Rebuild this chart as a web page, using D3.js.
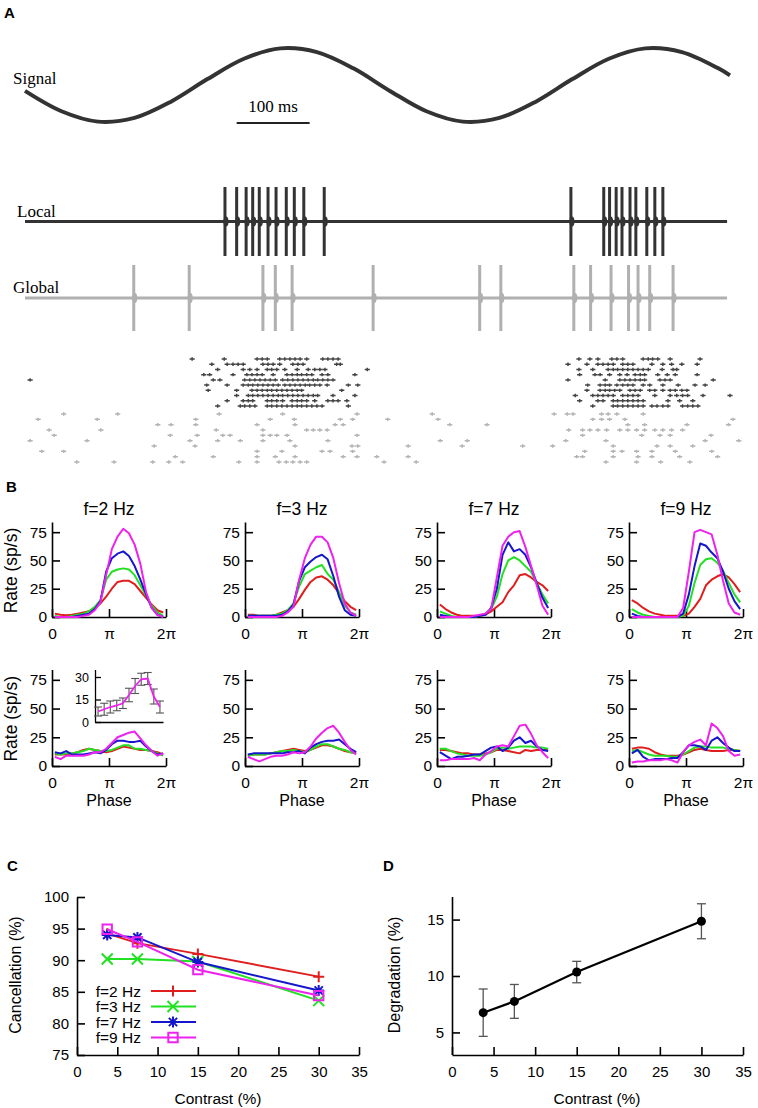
<!DOCTYPE html>
<html><head><meta charset="utf-8">
<script src="https://cdn.jsdelivr.net/npm/d3@7"></script>
<style>
body{margin:0;background:#fff}
svg{display:block}
</style></head><body>
<svg id="fig" width="758" height="1108"></svg>
<script>
// ---------------- DATA ----------------
// Panel A: stimulus (2 Hz sine), sampled every 50 ms (normalised amplitude)
const signalTimes = [0,50,100,150,200,250,300,350,400,450,500,550,600,650,700,750,800,850,900,950,966];
const signalValues = [-0.16,-0.71,-0.99,-0.89,-0.45,0.16,0.71,0.99,0.89,0.45,-0.16,-0.71,-0.99,-0.89,-0.45,0.16,0.71,0.99,0.89,0.45,0.26];
const traceEnd = 962;
const scaleBarStart = 290, scaleBarLen = 100;
const localSpikes = [274,290,303,312,321,333,344,358,369,382,410,748,793,801,810,818,829,837,852,863,874];
const globalSpikes = [149,225,326,343,366,477,623,652,752,775,803,827,840,856,888];
const rasterLocal = [
[229,273,318,325,332,349,356,363,370,377,386,408,415,422,429,759,774,785,804,811,819,847,854,860,867,884,925],
[256,277,285,292,299,326,333,340,349,367,374,381,427,432,744,770,785,792,799,806,819,826,833,859,874,886,900,921],
[264,299,308,318,332,338,345,356,373,388,397,404,411,469,759,778,799,806,812,819,826,833,840,847,854,873,888,893],
[245,253,285,304,311,318,325,340,359,366,373,379,386,393,407,415,452,760,781,788,801,815,825,836,843,849,867,880,891,921],
[7,258,267,301,308,315,322,329,336,343,353,360,367,374,381,388,395,401,408,415,422,744,795,815,822,829,836,843,849,870,877,884,943],
[249,277,299,306,312,319,326,333,340,347,356,363,370,377,384,390,397,404,414,443,456,771,788,795,801,811,819,826,833,847,856,874,895,918,932],
[251,290,311,318,325,332,338,345,352,359,366,373,379,434,770,788,795,801,808,815,829,836,843,856,863,874,884,891,900,907],
[290,306,312,319,326,333,340,347,353,360,367,374,381,388,395,401,422,452,754,778,785,792,799,806,819,826,833,840,863,884,893,901,908,929,966],
[277,299,306,312,332,338,345,353,366,373,379,386,397,415,422,429,441,760,785,792,806,812,819,826,833,840,847,881,897,915],
[264,295,301,308,315,332,338,345,352,359,366,373,379,386,393,400,407,443,778,806,812,819,826,833,840,847,859,866,874,881,901,908,915,922]
];
const rasterGlobal = [
[53,127,266,353,455,558,725,743,751,790,799,811,847],
[18,99,234,336,369,432,449,497,566,778,790,801,822,970],
[182,200,234,318,370,425,436,582,633,826,849,907,964],
[33,104,262,326,386,395,404,414,745,764,774,785,797,815,826,838,849,863,874,886,901],
[40,199,236,271,281,326,336,345,359,455,764,845,870,884,940],
[7,85,226,264,295,326,363,415,569,606,741,796,932,978],
[177,233,370,448,456,525,599,682,723,806,866,884,915],
[23,53,318,352,407,418,449,767,806,818,838,859,891,941],
[206,258,318,343,370,436,455,482,525,756,764,806,840,859,897,949],
[71,122,175,197,216,293,318,348,358,367,377,386,492,536,796,838,871,911]
];

// Panel B: phase bins (units of pi) and rates (sp/s); series order red, green, blue, magenta
const freqTitles = ["f=2 Hz","f=3 Hz","f=7 Hz","f=9 Hz"];
const phaseBins = [0.05,0.15,0.25,0.35,0.45,0.55,0.65,0.75,0.85,0.95,1.05,1.15,1.25,1.35,1.45,1.55,1.65,1.75,1.85,1.95];
const local2 = [
[3,2,1.5,2,3,4,5,8,12,18,25,31,32,32,29,23,17,11,6,4],
[1,0,0,1,2,3,5,9,15,33,40,42,43,42,37,28,19,10,4,1],
[0,0,0,0,1,2,3,7,14,40,52,56,58,54,45,33,20,8,2,0],
[0,0,0,0,0,1,2,6,13,37,60,71,78,74,64,47,22,8,2,0]];
const local3 = [
[2,2,1,1,1,2,4,6,9,16,24,31,35,36,33,28,21,14,9,6],
[1,1,1,1,1,2,3,6,12,27,38,41,44,46,38,33,22,10,4,2],
[1,1,1,1,1,1,2,5,11,32,44,49,53,55,51,36,18,6,2,1],
[0,0,0,0,0,0,1,4,9,33,52,64,71,71,66,52,30,12,4,1]];
const local7 = [
[11,7,4,2,1,1,1,1,2,5,9,13,22,28,37,38,35,31,28,23],
[5,3,1,0,0,0,0,1,3,7,18,38,50,53,50,45,40,30,20,12],
[2,1,0,0,0,0,0,1,2,8,25,55,66,58,60,55,44,30,17,8],
[0,0,0,0,0,0,1,2,3,7,35,63,71,75,76,62,45,28,10,2]];
const local9 = [
[15,12,8,5,3,2,1,1,1,1,3,9,16,28,33,36,38,35,29,22],
[7,4,2,1,0,0,0,0,0,1,10,30,46,51,52,48,41,30,20,13],
[3,1,0,0,0,0,0,0,0,3,20,45,65,63,57,52,40,25,14,7],
[0,0,0,0,0,0,0,0,0,8,40,75,77,75,73,55,32,12,4,2]];
const global2 = [
[10,10,10,11,12,14,15,14,13,12,13,15,17,16,15,14,14,13,12,10],
[11,10,11,11,12,13,15,14,13,13,14,16,18,18,15,15,14,13,11,9],
[12,11,13,10,10,10,11,12,11,14,19,22,22,21,21,22,17,13,10,11],
[8,6,9,9,9,9,10,12,12,15,20,25,27,29,30,24,18,13,9,11]];
const global3 = [
[9,10,10,10,11,12,13,14,15,14,13,14,16,18,18,17,15,13,12,11],
[9,10,10,10,11,12,13,13,14,13,12,14,17,19,19,17,15,14,12,11],
[10,11,11,11,11,11,11,12,12,13,11,16,19,21,22,22,23,19,15,12],
[8,6,4,6,8,9,9,10,12,11,12,17,24,29,33,35,29,21,14,10]];
const global7 = [
[14,14,13,12,11,11,10,10,11,12,14,14,13,12,11,14,13,14,14,14],
[15,15,13,11,10,9,9,9,10,12,15,16,15,16,17,17,17,16,16,15],
[12,9,6,8,8,9,10,10,13,16,17,13,16,22,25,20,22,17,14,13],
[5,5,6,6,6,6,7,5,10,13,17,18,17,26,35,36,28,18,12,7]];
const global9 = [
[15,16,16,15,12,10,9,9,9,10,12,14,15,14,13,13,13,14,14,13],
[13,14,12,10,9,9,9,8,8,10,13,16,17,17,16,16,16,15,14,13],
[11,14,8,5,6,6,6,7,7,12,18,18,17,14,22,25,20,16,13,13],
[3,4,4,5,5,5,6,5,3,12,18,21,23,18,37,33,26,13,9,10]];
const rateTicks = [0,25,50,75];
const insetPhase = [0.09,0.27,0.45,0.64,0.82,1.0,1.18,1.36,1.55,1.73,1.91];
const insetRate = [7,8.5,10,11,12.5,18,24,28.5,29,17,10];
const insetErr = [3,4,4,3.5,3.5,4.5,5,4,4,5,4];
const insetTicks = [0,15,30];

// Panel C
const contrasts = [3.75,7.5,15,30];
const cancelF2 = [94.2,92.7,91.0,87.4];
const cancelF3 = [90.2,90.2,89.8,83.6];
const cancelF7 = [94.0,93.6,89.7,85.2];
const cancelF9 = [94.9,92.9,88.5,84.4];
const legendLabels = ["f=2 Hz","f=3 Hz","f=7 Hz","f=9 Hz"];
const contrastTicks = [0,5,10,15,20,25,30,35];
const cancelTicks = [75,80,85,90,95,100];

// Panel D
const degradation = [6.75,7.75,10.35,14.85];
const degradationErr = [2.1,1.5,0.95,1.55];
const degradTicks = [5,10,15];

// ---------------- STYLE ----------------
const SANS = '"Liberation Sans", Arial, Helvetica, sans-serif';
const SERIF = '"Liberation Serif", "Times New Roman", serif';
const colors = ["#e01e1e","#22e022","#1616cc","#ee22ee"];
const svg = d3.select("#fig");

function styleAxis(g, fs){
  g.attr("font-family", null).attr("font-size", null);
  g.select(".domain").attr("stroke","#000").attr("stroke-width",1.6);
  g.selectAll(".tick line").attr("stroke","#000").attr("stroke-width",1.6);
  g.selectAll(".tick text").attr("font-family",SANS).attr("font-size",fs).attr("fill","#000");
}
function label(x,y,txt,opts={}){
  const t = svg.append("text").attr("x",x).attr("y",y).text(txt)
    .attr("font-family",opts.family||SANS).attr("font-size",opts.size||14)
    .attr("fill","#000");
  if(opts.bold) t.attr("font-weight","bold");
  if(opts.anchor) t.attr("text-anchor",opts.anchor);
  if(opts.rotate) t.attr("transform",`rotate(-90,${x},${y})`);
  return t;
}

// ---------------- PANEL A ----------------
label(4,18,"A",{bold:true,size:15});
const tScale = d3.scaleLinear().domain([0,966]).range([25,730]);
const sigY = d3.scaleLinear().domain([-1,1]).range([122,48]);
svg.append("path")
  .datum(signalTimes.map((t,i)=>[t,signalValues[i]]))
  .attr("d", d3.line().x(d=>tScale(d[0])).y(d=>sigY(d[1])).curve(d3.curveCatmullRom.alpha(0.5)))
  .attr("fill","none").attr("stroke","#333").attr("stroke-width",4);
label(13,84,"Signal",{family:SERIF,size:17});
svg.append("line").attr("x1",tScale(scaleBarStart)).attr("x2",tScale(scaleBarStart+scaleBarLen))
  .attr("y1",123).attr("y2",123).attr("stroke","#222").attr("stroke-width",1.8);
label((tScale(scaleBarStart)+tScale(scaleBarStart+scaleBarLen))/2,112,"100 ms",{family:SERIF,size:17,anchor:"middle"});

// Local / global traces
const localY = d3.scaleLinear().domain([-1,1]).range([256,187]);
const globalY = d3.scaleLinear().domain([-1,1]).range([331,265]);
function drawTrace(yS, spikes, col, w){
  const g = svg.append("g");
  g.append("line").attr("x1",tScale(0)).attr("x2",tScale(traceEnd))
    .attr("y1",yS(0)).attr("y2",yS(0)).attr("stroke",col).attr("stroke-width",w);
  g.selectAll("line.sp").data(spikes).join("line").attr("class","sp")
    .attr("x1",d=>tScale(d)).attr("x2",d=>tScale(d))
    .attr("y1",yS(1)).attr("y2",yS(-1)).attr("stroke",col).attr("stroke-width",3);
  g.selectAll("ellipse").data(spikes).join("ellipse")
    .attr("cx",d=>tScale(d)+1).attr("cy",yS(0)).attr("rx",2.5).attr("ry",5).attr("fill",col);
}
drawTrace(localY, localSpikes, "#333", 3.2);
label(17,217,"Local",{family:SERIF,size:17});
drawTrace(globalY, globalSpikes, "#b0b0b0", 3.2);
label(13,293,"Global",{family:SERIF,size:17});

// Raster
const rowLocal = d3.scalePoint().domain(d3.range(rasterLocal.length)).range([359,406]);
const rowGlobal = d3.scalePoint().domain(d3.range(rasterGlobal.length)).range([414,462]);
function drawRaster(data, rowS, col){
  const g = svg.append("g").attr("stroke",col).attr("stroke-width",1.5);
  data.forEach((row,i)=>{
    g.selectAll(null).data(row).join("path")
      .attr("d",d=>{const x=tScale(d), y=rowS(i); return `M${x-2.6},${y}H${x+2.6}M${x},${y-1.7}V${y+1.7}`;});
  });
}
drawRaster(rasterLocal,rowLocal,"#444");
drawRaster(rasterGlobal,rowGlobal,"#b4b4b4");

// ---------------- PANEL B ----------------
label(6,492,"B",{bold:true,size:15});
const colX = [52,245,437,629];
const plotW = 114;
const rows = [
  {bottom:617, top:522, data:[local2,local3,local7,local9]},
  {bottom:766, top:669.5, data:[global2,global3,global7,global9]}
];
const phaseFmt = d=> d===0?"0":(d===1?"\u03c0":"2\u03c0");
rows.forEach((row,ri)=>{
  colX.forEach((x0,ci)=>{
    const xs = d3.scaleLinear().domain([0,2]).range([x0,x0+plotW]);
    const ys = d3.scaleLinear().domain([0,84]).range([row.bottom,row.top]);
    const gy = svg.append("g").attr("transform",`translate(${x0},0)`)
      .call(d3.axisLeft(ys).tickValues(rateTicks).tickSizeInner(-8).tickSizeOuter(0).tickPadding(5));
    styleAxis(gy,15.5);
    const gx = svg.append("g").attr("transform",`translate(0,${row.bottom})`)
      .call(d3.axisBottom(xs).tickValues([0,1,2]).tickFormat(phaseFmt).tickSizeInner(-8).tickSizeOuter(0).tickPadding(10.5));
    styleAxis(gx,15.5);
    const line = d3.line().x((d,i)=>xs(phaseBins[i])).y(d=>ys(d));
    row.data[ci].forEach((series,si)=>{
      svg.append("path").datum(series).attr("d",line)
        .attr("fill","none").attr("stroke",colors[si]).attr("stroke-width",2).attr("stroke-linejoin","round");
    });
    if(ri===0) label(x0+plotW/2,515,freqTitles[ci],{size:17.5,anchor:"middle"});
    if(ri===1) label(x0+plotW/2,806,"Phase",{size:16,anchor:"middle"});
  });
  label(17,(row.bottom+row.top)/2+1,"Rate (sp/s)",{size:17.5,anchor:"middle",rotate:true});
});

// Inset
{
  const xs = d3.scaleLinear().domain([0,2]).range([95,163]);
  const ys = d3.scaleLinear().domain([0,35]).range([722,669.5]);
  const gy = svg.append("g").attr("transform","translate(95,0)")
    .call(d3.axisLeft(ys).tickValues(insetTicks).tickSizeInner(-6).tickSizeOuter(0).tickPadding(6));
  styleAxis(gy,12.5);
  gy.select(".domain").attr("stroke-width",1.3); gy.selectAll(".tick line").attr("stroke-width",1.3);
  const gx = svg.append("g").attr("transform","translate(0,722)")
    .call(d3.axisBottom(xs).tickValues([]).tickSizeOuter(0));
  styleAxis(gx,12); gx.select(".domain").attr("stroke-width",1.3);
  const eg = svg.append("g").attr("stroke","#555").attr("stroke-width",1.1);
  insetRate.forEach((v,i)=>{
    const x=xs(insetPhase[i]), y1=ys(v-insetErr[i]), y2=ys(v+insetErr[i]);
    eg.append("line").attr("x1",x).attr("x2",x).attr("y1",y1).attr("y2",y2);
    eg.append("line").attr("x1",x-4).attr("x2",x+4).attr("y1",y1).attr("y2",y1);
    eg.append("line").attr("x1",x-4).attr("x2",x+4).attr("y1",y2).attr("y2",y2);
  });
  svg.append("path").datum(insetRate)
    .attr("d",d3.line().x((d,i)=>xs(insetPhase[i])).y(d=>ys(d)))
    .attr("fill","none").attr("stroke",colors[3]).attr("stroke-width",1.8);
}

// ---------------- PANEL C ----------------
label(7,871,"C",{bold:true,size:15});
const cx = d3.scaleLinear().domain([0,35]).range([77,359]);
const cy = d3.scaleLinear().domain([75,100]).range([1055,897]);
{
  const gy = svg.append("g").attr("transform","translate(77,0)")
    .call(d3.axisLeft(cy).tickValues(cancelTicks).tickSizeInner(-8).tickSizeOuter(0).tickPadding(8));
  styleAxis(gy,15);
  const gx = svg.append("g").attr("transform","translate(0,1055)")
    .call(d3.axisBottom(cx).tickValues(contrastTicks).tickSizeInner(-8).tickSizeOuter(0).tickPadding(11));
  styleAxis(gx,15);
}
const markerPaths = [
  s=>`M${-s},0H${s}M0,${-s}V${s}`,
  s=>`M${-s},${-s}L${s},${s}M${-s},${s}L${s},${-s}`,
  s=>`M${-s},0H${s}M0,${-s}V${s}M${-s*0.75},${-s*0.75}L${s*0.75},${s*0.75}M${-s*0.75},${s*0.75}L${s*0.75},${-s*0.75}`,
  s=>`M${-s*0.85},${-s*0.85}H${s*0.85}V${s*0.85}H${-s*0.85}Z`
];
const cancelSeries = [cancelF2,cancelF3,cancelF7,cancelF9];
cancelSeries.forEach((ser,si)=>{
  svg.append("path").datum(ser)
    .attr("d",d3.line().x((d,i)=>cx(contrasts[i])).y(d=>cy(d)))
    .attr("fill","none").attr("stroke",colors[si]).attr("stroke-width",2);
  svg.selectAll(null).data(ser).join("path")
    .attr("transform",(d,i)=>`translate(${cx(contrasts[i])},${cy(d)})`)
    .attr("d",markerPaths[si](5.5)).attr("fill","none").attr("stroke",colors[si]).attr("stroke-width",2);
});
legendLabels.forEach((t,i)=>{
  const y = 991 + i*15.5;
  label(141,y+5.5,t,{size:15.5,anchor:"end"});
  svg.append("line").attr("x1",151).attr("x2",196).attr("y1",y).attr("y2",y)
    .attr("stroke",colors[i]).attr("stroke-width",2);
  svg.append("path").attr("transform",`translate(173,${y})`).attr("d",markerPaths[i](5.5))
    .attr("fill","none").attr("stroke",colors[i]).attr("stroke-width",2);
});
label(218,1104,"Contrast (%)",{size:15.5,anchor:"middle"});
label(21,975,"Cancellation (%)",{size:16,anchor:"middle",rotate:true});

// ---------------- PANEL D ----------------
label(383,871,"D",{bold:true,size:15});
const dx = d3.scaleLinear().domain([0,35]).range([452,743]);
const dy = d3.scaleLinear().domain([3,17]).range([1055,897]);
{
  const gy = svg.append("g").attr("transform","translate(452,0)")
    .call(d3.axisLeft(dy).tickValues(degradTicks).tickSizeInner(-8).tickSizeOuter(0).tickPadding(8));
  styleAxis(gy,15);
  gy.select(".domain").attr("d",`M0.5,${dy(17)}V${dy(3)}`);
  const gx = svg.append("g").attr("transform","translate(0,1055)")
    .call(d3.axisBottom(dx).tickValues(contrastTicks).tickSizeInner(-8).tickSizeOuter(0).tickPadding(11));
  styleAxis(gx,15);
  const eg = svg.append("g").attr("stroke","#555").attr("stroke-width",1.3);
  degradation.forEach((v,i)=>{
    const x=dx(contrasts[i]), y1=dy(v-degradationErr[i]), y2=dy(v+degradationErr[i]);
    eg.append("line").attr("x1",x).attr("x2",x).attr("y1",y1).attr("y2",y2);
    eg.append("line").attr("x1",x-4.5).attr("x2",x+4.5).attr("y1",y1).attr("y2",y1);
    eg.append("line").attr("x1",x-4.5).attr("x2",x+4.5).attr("y1",y2).attr("y2",y2);
  });
  svg.append("path").datum(degradation)
    .attr("d",d3.line().x((d,i)=>dx(contrasts[i])).y(d=>dy(d)))
    .attr("fill","none").attr("stroke","#000").attr("stroke-width",2.2);
  svg.selectAll(null).data(degradation).join("circle")
    .attr("cx",(d,i)=>dx(contrasts[i])).attr("cy",d=>dy(d)).attr("r",4.5).attr("fill","#000");
}
label(597,1104,"Contrast (%)",{size:15.5,anchor:"middle"});
label(400,975,"Degradation (%)",{size:16,anchor:"middle",rotate:true});
</script>
</body></html>
